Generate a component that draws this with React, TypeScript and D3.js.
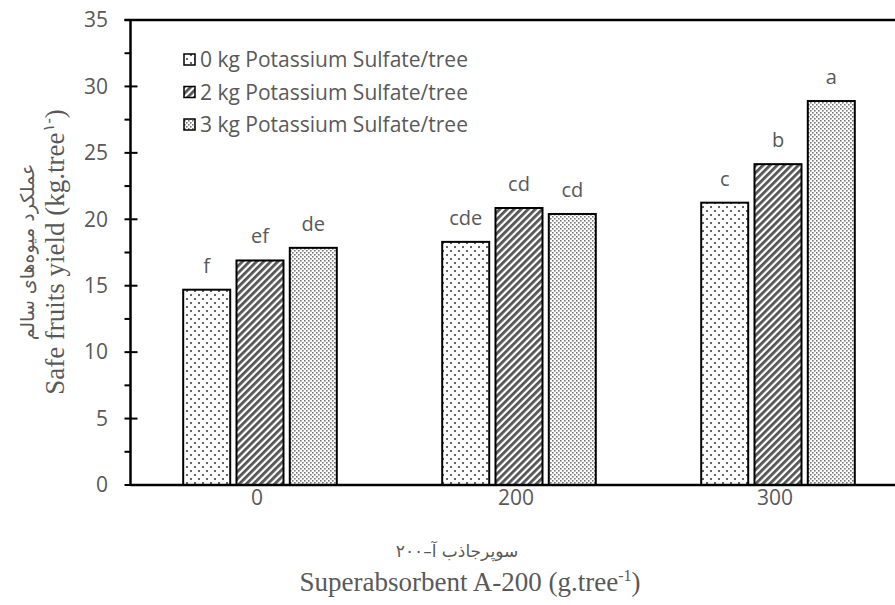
import React, { useEffect, useRef } from 'react';
import * as d3 from 'd3';

// chart data
const categories = ['0', '200', '300'];
const seriesNames = [
  '0 kg Potassium Sulfate/tree',
  '2 kg Potassium Sulfate/tree',
  '3 kg Potassium Sulfate/tree',
];
const yield0kg = [14.7, 18.3, 21.25];
const yield2kg = [16.9, 20.85, 24.15];
const yield3kg = [17.85, 20.4, 28.9];
const letters0kg = ['f', 'cde', 'c'];
const letters2kg = ['ef', 'cd', 'b'];
const letters3kg = ['de', 'cd', 'a'];
const yTicks = [0, 5, 10, 15, 20, 25, 30, 35];

const seriesValues = [yield0kg, yield2kg, yield3kg];
const seriesLetters = [letters0kg, letters2kg, letters3kg];
const patternIds = ['pat0', 'pat2', 'pat3'];

const W = 895, H = 605;
const axisX = 130.5, topY = 20, baseY = 485;
const textColor = '#595959';
const sansFont = '"Open Sans", sans-serif';
const serifFont = '"Liberation Serif", "Times New Roman", serif';
const arabicFont = '"DejaVu Sans", sans-serif';

function App() {
  const ref = useRef<SVGSVGElement | null>(null);

  useEffect(() => {
    const svg = d3.select(ref.current);
    svg.selectAll('*').remove();

    // fill patterns
    const defs = svg.append('defs');
    const p0 = defs.append('pattern').attr('id', 'pat0').attr('patternUnits', 'userSpaceOnUse')
      .attr('width', 8).attr('height', 8);
    p0.append('rect').attr('width', 8).attr('height', 8).attr('fill', '#fff');
    p0.append('rect').attr('x', 2).attr('y', 2).attr('width', 2).attr('height', 2).attr('fill', '#666');
    p0.append('rect').attr('x', 6).attr('y', 6).attr('width', 2).attr('height', 2).attr('fill', '#666');

    const p2 = defs.append('pattern').attr('id', 'pat2').attr('patternUnits', 'userSpaceOnUse')
      .attr('width', 5).attr('height', 5).attr('patternTransform', 'rotate(45)');
    p2.append('rect').attr('width', 5).attr('height', 5).attr('fill', '#fff');
    p2.append('rect').attr('width', 2.8).attr('height', 5).attr('fill', '#555');

    const p3 = defs.append('pattern').attr('id', 'pat3').attr('patternUnits', 'userSpaceOnUse')
      .attr('width', 4).attr('height', 4);
    p3.append('rect').attr('width', 4).attr('height', 4).attr('fill', '#fff');
    p3.append('rect').attr('x', 0).attr('y', 0).attr('width', 1.6).attr('height', 1.6).attr('fill', '#777');
    p3.append('rect').attr('x', 2).attr('y', 2).attr('width', 1.6).attr('height', 1.6).attr('fill', '#777');

    // scales
    const x = d3.scaleBand().domain(categories).range([axisX, axisX + 777]).padding(0);
    const xInner = d3.scaleBand().domain(seriesNames).range([0, 153.6]).paddingInner(0.118);
    const y = d3.scaleLinear().domain([0, 35]).range([baseY, topY]);
    const barX = (s: string, i: number) =>
      (x(categories[i]) as number) + x.bandwidth() / 2 - 76.8 + (xInner(s) as number);

    // bars + significance letters
    seriesNames.forEach((s, si) => {
      const g = svg.append('g');
      g.selectAll('rect').data(seriesValues[si]).join('rect')
        .attr('x', (d, i) => barX(s, i))
        .attr('y', d => y(d))
        .attr('width', xInner.bandwidth())
        .attr('height', d => baseY - y(d))
        .attr('fill', `url(#${patternIds[si]})`)
        .attr('stroke', '#000')
        .attr('stroke-width', 2);
      g.selectAll('text').data(seriesValues[si]).join('text')
        .attr('x', (d, i) => barX(s, i) + xInner.bandwidth() / 2)
        .attr('y', d => y(d) - 17)
        .attr('text-anchor', 'middle')
        .style('font-family', sansFont)
        .style('font-size', '20px')
        .attr('fill', textColor)
        .text((d, i) => seriesLetters[si][i]);
    });

    // axis lines + top border
    svg.append('line').attr('x1', axisX).attr('x2', W).attr('y1', baseY).attr('y2', baseY)
      .attr('stroke', '#000').attr('stroke-width', 2.5);
    svg.append('line').attr('x1', axisX - 6).attr('x2', W).attr('y1', topY).attr('y2', topY)
      .attr('stroke', '#000').attr('stroke-width', 2.5);
    svg.append('line').attr('x1', axisX).attr('x2', axisX).attr('y1', topY).attr('y2', baseY)
      .attr('stroke', '#000').attr('stroke-width', 2.5);

    // y ticks
    svg.append('g').selectAll('line').data(yTicks).join('line')
      .attr('x1', axisX - 6).attr('x2', axisX + 7)
      .attr('y1', d => y(d)).attr('y2', d => y(d))
      .attr('stroke', '#000').attr('stroke-width', 2);
    svg.append('g').selectAll('line').data(yTicks.slice(1).map(d => d - 2.5)).join('line')
      .attr('x1', axisX - 6).attr('x2', axisX)
      .attr('y1', d => y(d)).attr('y2', d => y(d))
      .attr('stroke', '#000').attr('stroke-width', 2);
    svg.append('g').selectAll('text').data(yTicks).join('text')
      .attr('x', 108).attr('y', d => y(d)).attr('dy', '0.35em')
      .attr('text-anchor', 'end')
      .style('font-family', sansFont).style('font-size', '21px')
      .attr('fill', textColor)
      .text(d => d);

    // x tick labels
    svg.append('g').selectAll('text').data(categories).join('text')
      .attr('x', d => (x(d) as number) + x.bandwidth() / 2 - 3)
      .attr('y', 505)
      .attr('text-anchor', 'middle')
      .style('font-family', sansFont).style('font-size', '21px')
      .attr('fill', textColor)
      .text(d => d);

    // legend
    const legend = svg.append('g');
    seriesNames.forEach((s, si) => {
      const ly = 60 + si * 32.5;
      legend.append('rect').attr('x', 184).attr('y', ly - 6).attr('width', 11).attr('height', 11)
        .attr('fill', `url(#${patternIds[si]})`).attr('stroke', '#000').attr('stroke-width', 1.5);
      legend.append('text').attr('x', 200).attr('y', ly).attr('dy', '0.35em')
        .style('font-family', sansFont).style('font-size', '21px')
        .attr('fill', textColor).text(s);
    });

    // y axis titles
    const yt = svg.append('g').attr('transform', 'translate(0,252) rotate(-90)');
    yt.append('text').attr('x', 0).attr('y', 34).attr('text-anchor', 'middle')
      .style('font-family', arabicFont).style('font-size', '19px')
      .attr('fill', textColor).text('عملکرد میوه‌های سالم');
    const ye = yt.append('text').attr('x', 0).attr('y', 64).attr('text-anchor', 'middle')
      .style('font-family', serifFont).style('font-size', '27px').attr('fill', textColor);
    ye.append('tspan').text('Safe fruits yield (kg.tree');
    ye.append('tspan').attr('dy', -10).style('font-size', '16px').text('۱-');
    ye.append('tspan').attr('dy', 10).text(')');

    // x axis titles
    svg.append('text').attr('x', 457).attr('y', 557).attr('text-anchor', 'middle')
      .style('font-family', arabicFont).style('font-size', '17px')
      .attr('fill', textColor).text('سوپرجاذب آ–۲۰۰');
    const xe = svg.append('text').attr('x', 470).attr('y', 591).attr('text-anchor', 'middle')
      .style('font-family', serifFont).style('font-size', '27px').attr('fill', textColor);
    xe.append('tspan').text('Superabsorbent A-200 (g.tree');
    xe.append('tspan').attr('dy', -10).style('font-size', '16px').text('-1');
    xe.append('tspan').attr('dy', 10).text(')');
  }, []);

  return (
    <svg ref={ref} width={W} height={H}
      style={{ position: 'absolute', left: 0, top: 0, background: '#fff' }} />
  );
}

export default App;
